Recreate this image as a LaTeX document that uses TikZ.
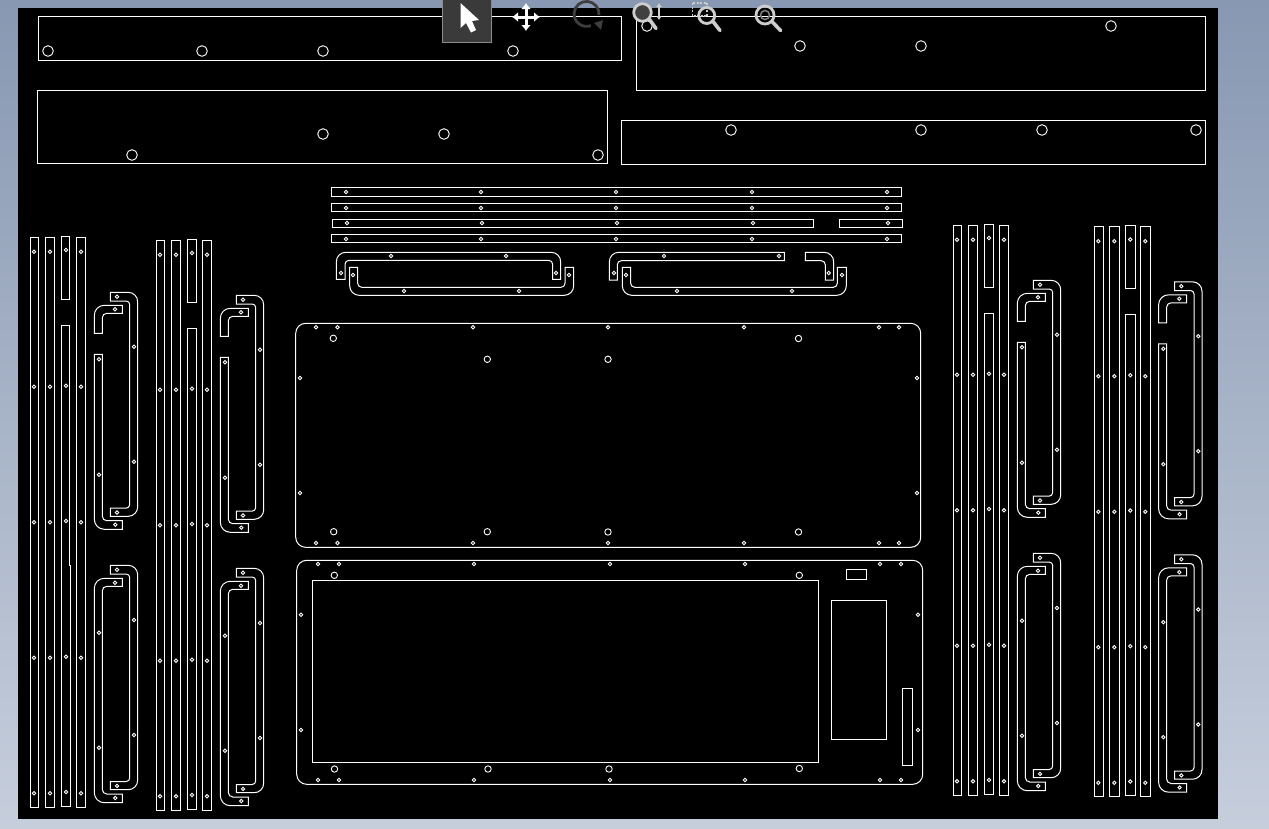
\documentclass[tikz,border=0pt]{standalone}
\usepackage{tikz}
\usetikzlibrary{arrows.meta}

\definecolor{skytop}{RGB}{136,152,178}
\definecolor{skybot}{RGB}{198,206,220}
\definecolor{btnfill}{RGB}{58,58,58}
\definecolor{btnedge}{RGB}{140,140,140}
\definecolor{ringgray}{RGB}{205,205,205}
\definecolor{offgray}{RGB}{62,62,62}

\tikzset{
    part/.style={draw=white,line width=1pt},
    bighole/.style={draw=white,line width=0.9pt},
    pinhole/.style={draw=white,line width=0.9pt},
    lens/.style={draw=ringgray,line width=2.8pt},
    lenshandle/.style={draw=ringgray,line width=3.6pt,line cap=round},
}

% one column of four strips with its two pairs of brackets
\newcommand{\stripset}[1]{
    \draw[part] (30.3,237) rectangle (38.7,807.3);
    \draw[part] (45.3,237) rectangle (54.7,807.3);
    \draw[part] (61.3,236) rectangle (#1,299.3);
    \draw[part] (61.3,325.3) -- (#1,325.3) -- (#1,565.7) -- (70.7,565.7) -- (70.7,806.3) -- (61.3,806.3) -- cycle;
    \draw[part] (76.3,237) rectangle (85.7,807.3);
    \foreach \yy/\yb in {251.7/250,386.7/385.7,522.3/521,657.7/656.7,793.3/792} {
        \draw[pinhole] (34,\yy) circle (1.7);
        \draw[pinhole] (50,\yy) circle (1.7);
        \draw[pinhole] (66,\yb) circle (1.7);
        \draw[pinhole] (81,\yy) circle (1.7);
    }
}

% bracket open to the left, top and bottom edge as arguments
\newcommand{\sidebracket}[2]{
    \draw[part] (110.3,#1) [rounded corners=9.5pt] -- (137.7,#1) -- (137.7,#2)
        [sharp corners] -- (110.3,#2) -- (110.3,#2-8.2)
        [rounded corners=3.5pt] -- (129.7,#2-8.2) -- (129.7,#1+8.7)
        [sharp corners] -- (110.3,#1+8.7) -- cycle;
    \draw[pinhole] (117,#1+4.4) circle (1.7);
    \draw[pinhole] (117,#2-3.8) circle (1.7);
}

\newcommand{\bracketset}{
    % upper pair
    \sidebracket{292.3}{516.3}
    \draw[pinhole] (134,346.7) circle (1.7);
    \draw[pinhole] (134,461.7) circle (1.7);
    \draw[part] (94.3,333.3) [rounded corners=10pt] -- (94.3,305.3)
        [sharp corners] -- (122.3,305.3) -- (122.3,313.3)
        [rounded corners=4.5pt] -- (102.3,313.3) [sharp corners] -- (102.3,333.3) -- cycle;
    \draw[pinhole] (115,309.3) circle (1.7);
    \draw[part] (94.3,354.3) [rounded corners=10pt] -- (94.3,529.3)
        [sharp corners] -- (122.3,529.3) -- (122.3,520.7)
        [rounded corners=4.5pt] -- (102.3,520.7) [sharp corners] -- (102.3,354.3) -- cycle;
    \draw[pinhole] (99,359.3) circle (1.7);
    \draw[pinhole] (99,474.7) circle (1.7);
    \draw[pinhole] (115.3,524.7) circle (1.7);
    % lower pair
    \sidebracket{565.3}{789.7}
    \draw[pinhole] (134,620) circle (1.7);
    \draw[pinhole] (134,735) circle (1.7);
    \draw[part] (122.3,578.3) [rounded corners=10pt] -- (94.3,578.3) -- (94.3,802.7)
        [sharp corners] -- (122.3,802.7) -- (122.3,794)
        [rounded corners=4.5pt] -- (102.3,794) -- (102.3,586.3)
        [sharp corners] -- (122.3,586.3) -- cycle;
    \draw[pinhole] (115,582.7) circle (1.7);
    \draw[pinhole] (99,632.7) circle (1.7);
    \draw[pinhole] (99,747.7) circle (1.7);
    \draw[pinhole] (115.3,798) circle (1.7);
}

\begin{document}
\begin{tikzpicture}[x=1pt,y=-1pt]
    \useasboundingbox (0,0) rectangle (1269,828);
    \clip (0,0) rectangle (1269,828);

    % window behind the sheet
    \shade[top color=skytop,bottom color=skybot] (0,0) rectangle (1269,828);
    \fill[black] (18,8) rectangle (1218,819);

    % four long panels on top
    \draw[part] (38.5,16.5) rectangle (621,60);
    \foreach \xx in {48,202,323,513} \draw[bighole] (\xx,51) circle (5.3);
    \draw[part] (636.5,16.5) rectangle (1205.5,90.5);
    \foreach \xx/\yy in {647/26,800/46,921/46,1111/26} \draw[bighole] (\xx,\yy) circle (5.3);
    \draw[part] (37.5,90.5) rectangle (607.5,163.5);
    \foreach \xx/\yy in {132/155,323/134,444/134,598/155} \draw[bighole] (\xx,\yy) circle (5.3);
    \draw[part] (621.5,120.5) rectangle (1205.5,164.5);
    \foreach \xx in {731,921,1042,1196} \draw[bighole] (\xx,130) circle (5.3);

    % thin horizontal strips
    \draw[part] (331.3,187.3) rectangle (901.3,196.3);
    \draw[part] (331.3,203.3) rectangle (901.7,211.7);
    \draw[part] (332.3,219.3) rectangle (813.3,227.7);
    \draw[part] (839.3,219.3) rectangle (902.7,227.7);
    \draw[part] (331.3,234.3) rectangle (901.7,242.7);
    \foreach \xx in {346,481,616,752,887} {
        \draw[pinhole] (\xx,192) circle (1.7);
        \draw[pinhole] (\xx,208) circle (1.7);
        \draw[pinhole] (\xx+1,223) circle (1.7);
        \draw[pinhole] (\xx,239) circle (1.7);
    }

    % horizontal brackets, left pair
    \draw[part] (336.3,279.3) [rounded corners=9.5pt] -- (336.3,252.3) -- (560.7,252.3)
        [sharp corners] -- (560.7,279.3) -- (552.7,279.3)
        [rounded corners=4pt] -- (552.7,260.3) -- (345,260.3) [sharp corners] -- (345,279.3) -- cycle;
    \draw[part] (349.7,267.3) [rounded corners=9.5pt] -- (349.7,295.3) -- (573.7,295.3)
        [sharp corners] -- (573.7,267.3) -- (565,267.3)
        [rounded corners=4pt] -- (565,287.3) -- (357.7,287.3) [sharp corners] -- (357.7,267.3) -- cycle;
    \foreach \xx/\yy in {341/273,391/256,506/256,556/273,353/275,404/291,519/291,569/275}
        \draw[pinhole] (\xx,\yy) circle (1.7);

    % horizontal brackets, right pair
    \draw[part] (609.3,280) [rounded corners=9.5pt] -- (609.3,252.3)
        [sharp corners] -- (784.3,252.3) -- (784.3,260.7)
        [rounded corners=4pt] -- (617.3,260.7) [sharp corners] -- (617.3,280) -- cycle;
    \draw[part] (805.3,252.3) [rounded corners=9.5pt] -- (833.7,252.3)
        [sharp corners] -- (833.7,280) -- (825.3,280)
        [rounded corners=4pt] -- (825.3,260.7) [sharp corners] -- (805.3,260.7) -- cycle;
    \draw[part] (622.3,267.3) [rounded corners=9.5pt] -- (622.3,295.3) -- (846.3,295.3)
        [sharp corners] -- (846.3,267.3) -- (837.3,267.3)
        [rounded corners=4pt] -- (837.3,287.3) -- (630.7,287.3) [sharp corners] -- (630.7,267.3) -- cycle;
    \foreach \xx/\yy in {614/273,664/256,779/256,828.7/273,626/275,677/291,792/291,842/275}
        \draw[pinhole] (\xx,\yy) circle (1.7);

    % plate in the middle
    \draw[part,rounded corners=10pt] (295.7,323.3) rectangle (920.7,547.3);
    \foreach \xx in {316,337.5,473,608,744,879,899} {
        \draw[pinhole] (\xx,327.3) circle (1.7);
        \draw[pinhole] (\xx,543) circle (1.7);
    }
    \foreach \xx in {300,917} {
        \draw[pinhole] (\xx,378) circle (1.7);
        \draw[pinhole] (\xx,493) circle (1.7);
    }
    \foreach \xx/\yy in {333.3/338.3,487.3/359.3,608/359.3,798.5/338.5,333.7/531.7,487.3/531.7,608/532,798.5/532}
        \draw[bighole] (\xx,\yy) circle (3.2);

    % plate with the cut-outs
    \draw[part,rounded corners=10pt] (296.7,560.3) rectangle (922.7,784.3);
    \draw[part] (312.3,580.3) rectangle (818.3,762.3);
    \draw[part] (831.3,600.3) rectangle (886.7,739.3);
    \draw[part] (846.3,569.3) rectangle (866.7,579.7);
    \draw[part] (902.3,688.3) rectangle (912.7,765.7);
    \foreach \xx in {318,339,474,610,745,880,901} {
        \draw[pinhole] (\xx,564) circle (1.7);
        \draw[pinhole] (\xx,780) circle (1.7);
    }
    \foreach \xx in {301,918} {
        \draw[pinhole] (\xx,614.7) circle (1.7);
        \draw[pinhole] (\xx,730) circle (1.7);
    }
    \foreach \xx/\yy in {334.3/575.3,799.3/575.3,334.5/769,488/769,609/769,799.3/768.5}
        \draw[bighole] (\xx,\yy) circle (3.2);

    % strip columns, left and right of the plates
    \foreach \dx/\dy/\jog in {0/0/69.7,126/3/70.7,923/-12/70.7,1064.3/-10.5/70.7} {
        \begin{scope}[shift={(\dx,\dy)}]
            \stripset{\jog}
            \bracketset
        \end{scope}
    }

    % toolbar: select
    \draw[draw=btnedge,fill=btnfill,line width=1pt] (442.5,-2) rectangle (491.5,42.5);
    \fill[white] (460.5,3) -- (460.5,28) -- (466,23) -- (471,32.5) -- (476,30) -- (472,21) -- (479,20) -- cycle;

    % toolbar: pan
    \draw[white,line width=3pt,{Latex[length=6pt,width=10pt]}-{Latex[length=6pt,width=10pt]}] (526,3) -- (526,31);
    \draw[white,line width=3pt,{Latex[length=6pt,width=10pt]}-{Latex[length=6pt,width=10pt]}] (512,17) -- (540,17);

    % toolbar: rotate, greyed out
    \draw[offgray,line width=2.8pt] (599,15) arc[start angle=5,end angle=-290,radius=12.5];
    \fill[offgray] (594,23) -- (603,20) -- (601,30) -- cycle;

    % toolbar: zoom in/out
    \draw[lens,fill=black!75] (642.5,12.5) circle (8.8);
    \draw[lenshandle] (649.5,19.5) -- (656,28.5);
    \draw[ringgray,line width=2pt,{Latex[length=4pt,width=6pt]}-{Latex[length=4pt,width=6pt]}] (659,3) -- (659,20);

    % toolbar: zoom to box
    \draw[ringgray,line width=1.3pt,dash pattern=on 2pt off 1.5pt] (692.5,3) rectangle (707,16);
    \draw[lens] (706.7,15.5) circle (8);
    \draw[lenshandle] (713,21.5) -- (720,30.5);

    % toolbar: zoom to fit
    \draw[lens] (765,15) circle (9);
    \draw[draw=gray,line width=1.5pt] (765,15) circle (4.5);
    \draw[lenshandle] (772,21.5) -- (780.5,30.5);
\end{tikzpicture}
\end{document}
